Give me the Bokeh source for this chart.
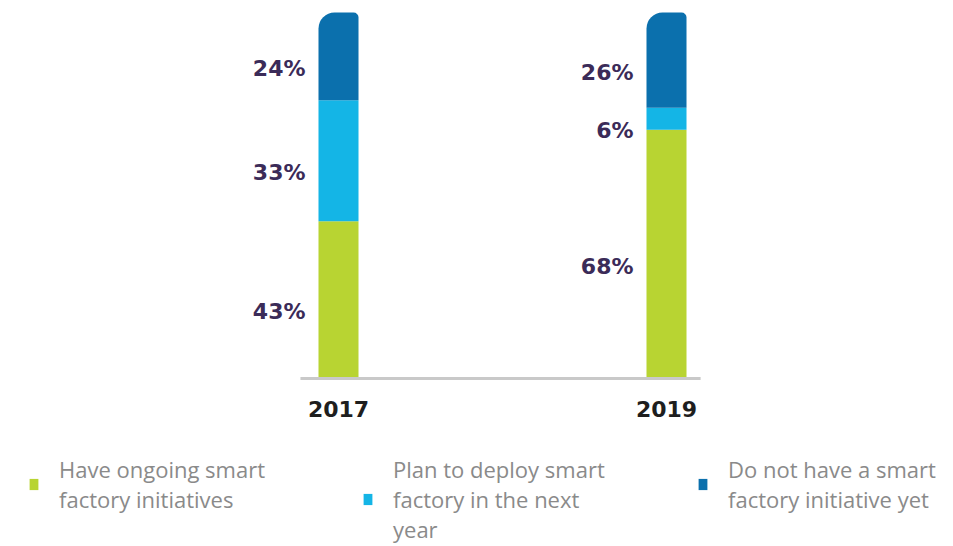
from bokeh.plotting import figure
from bokeh.models import ColumnDataSource, Legend, LegendItem, Range1d
from bokeh.core.properties import value
from bokeh.embed import file_html
from bokeh.resources import INLINE

years = ["2017", "2019"]
ongoing = [43, 68]
plan = [33, 6]
none_yet = [24, 26]
series_labels = ["Have ongoing smart\nfactory initiatives",
                 "Plan to deploy smart\nfactory in the next\nyear",
                 "Do not have a smart\nfactory initiative yet"]
colors = ["#b8d432", "#14b5e6", "#0b70ad"]

xs = list(range(len(years)))
b1 = [0] * len(xs)
t1 = [a for a in ongoing]
t2 = [a + b for a, b in zip(ongoing, plan)]
t3 = [a + b + c for a, b, c in zip(ongoing, plan, none_yet)]

p = figure(width=953, height=546, output_backend="svg", toolbar_location=None,
           x_range=Range1d(-1.0305, 1.875), y_range=Range1d(-45.9, 103.28),
           min_border=0)
p.outline_line_color = None
p.xgrid.visible = False
p.ygrid.visible = False
p.xaxis.visible = False
p.yaxis.visible = False
p.background_fill_color = "white"
p.border_fill_color = "white"

bw = 0.122
r1 = p.vbar(x=xs, bottom=b1, top=t1, width=bw, fill_color=colors[0], line_color=None)
r2 = p.vbar(x=xs, bottom=t1, top=t2, width=bw, fill_color=colors[1], line_color=None)
r3 = p.vbar(x=xs, bottom=t2, top=t3, width=bw, fill_color=colors[2], line_color=None,
            border_radius=(16, 5, 0, 0))

# baseline spanning just past the two bars
p.segment(x0=[xs[0] - 0.116], y0=[0], x1=[xs[-1] + 0.104], y1=[0],
          line_color="#c9c9c9", line_width=3)

# category labels under the baseline
p.text(x=xs, y=[0] * len(xs), text=years, y_offset=30,
       text_align="center", text_baseline="middle", text_font=value("DejaVu Sans"),
       text_font_style="bold", text_font_size="22px", text_color="#1e1e1e")

lx, ly, lt = [], [], []
for vals, bots in [(ongoing, b1), (plan, t1), (none_yet, t2)]:
    for i, (v, b) in enumerate(zip(vals, bots)):
        lx.append(xs[i])
        ly.append(b + v / 2)
        lt.append(f"{v}%")
src = ColumnDataSource(dict(x=lx, y=ly, t=lt))
p.text(x="x", y="y", text="t", source=src, x_offset=-33, y_offset=12,
       text_align="right", text_baseline="middle", text_font=value("DejaVu Sans"),
       text_font_style="bold", text_font_size="22px", text_color="#3b2b58")

# one legend block per series, top-aligned like the reference
legend_x = [28, 362, 697]
renderers = [r1, r2, r3]
for lab, rend, lxp in zip(series_labels, renderers, legend_x):
    n_lines = lab.count("\n") + 1
    lg = Legend(items=[LegendItem(label=lab, renderers=[rend])],
                location=(lxp, 92 - 30 * n_lines),
                glyph_width=11, glyph_height=14, label_standoff=20,
                padding=0, margin=0,
                border_line_color=None, background_fill_alpha=0,
                label_text_font="Open Sans", label_text_font_size="22px",
                label_text_color="#8a8a8a")
    p.add_layout(lg, "center")

open("out.html", "w").write(file_html(p, INLINE))
